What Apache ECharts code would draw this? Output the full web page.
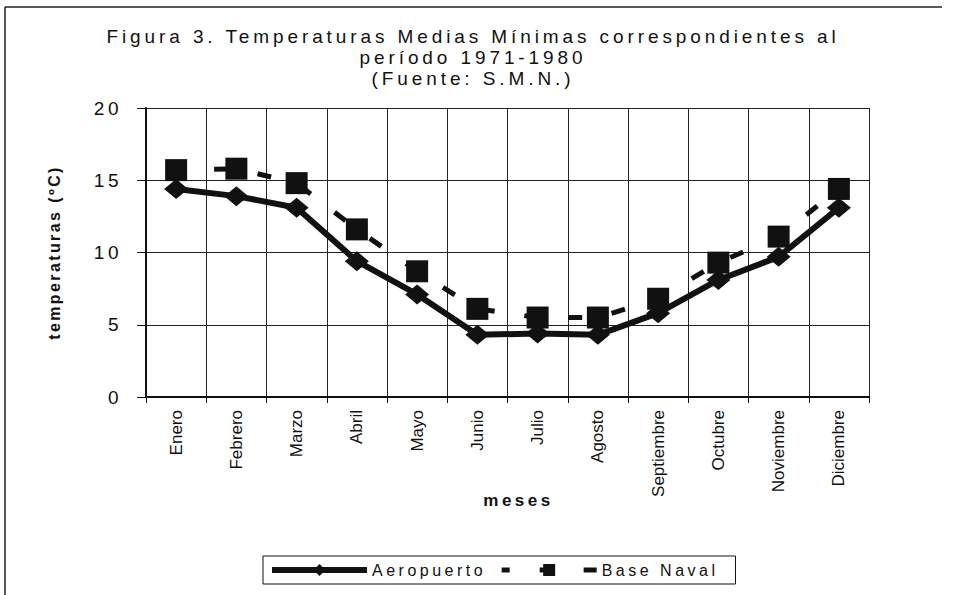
<!DOCTYPE html>
<html>
<head>
<meta charset="utf-8">
<script src="https://cdn.jsdelivr.net/npm/echarts@6/dist/echarts.min.js"></script>
<style>
  html, body { margin: 0; padding: 0; background: #fff; }
  #chart { width: 959px; height: 595px; }
  /* espaciado de letras del escaneo original */
  #chart text[style*="Liberation Sans"] { letter-spacing: 3.5px; }
  #chart text[style*="Arimo"] { letter-spacing: 3.9px; }
  #chart text[style*="Tinos"] { letter-spacing: 2.4px; }
</style>
</head>
<body>
<div id="chart"></div>
<script>
  // meses del eje X
  const meses = ['Enero', 'Febrero', 'Marzo', 'Abril', 'Mayo', 'Junio', 'Julio',
    'Agosto', 'Septiembre', 'Octubre', 'Noviembre', 'Diciembre'];
  // temperaturas medias mínimas (ºC)
  const aeropuerto = [14.4, 13.9, 13.1, 9.4, 7.1, 4.3, 4.4, 4.3, 5.8, 8.1, 9.7, 13.1];
  const baseNaval = [15.7, 15.8, 14.8, 11.6, 8.7, 6.1, 5.5, 5.5, 6.8, 9.3, 11.1, 14.4];
  const yTicks = [0, 5, 10, 15, 20];

  const spaced = 'Liberation Sans';
  const titleFont = 'Liberation Sans, Arimo';
  const nameFont = 'Liberation Sans, Tinos';
  const plain = 'Arial, Helvetica, sans-serif';

  const myChart = echarts.init(document.getElementById('chart'), null, { renderer: 'svg' });

  const option = {
    backgroundColor: '#fff',
    animation: false,
    title: {
      text: 'Figura 3. Temperaturas Medias Mínimas correspondientes al\nperíodo 1971-1980\n(Fuente: S.M.N.)',
      left: 468,
      top: 21,
      textAlign: 'center',
      textStyle: {
        fontFamily: titleFont,
        fontSize: 19,
        fontWeight: 'normal',
        color: '#111',
        lineHeight: 21,
      },
    },
    graphic: [
      { type: 'line', shape: { x1: 5, y1: 7, x2: 942, y2: 7 }, style: { stroke: '#222', lineWidth: 1.5 } },
      { type: 'line', shape: { x1: 5, y1: 7, x2: 5, y2: 595 }, style: { stroke: '#222', lineWidth: 1.5 } },
    ],
    legend: {
      left: 263,
      top: 556,
      padding: [6, 52, 6, 6],
      borderColor: '#111',
      borderWidth: 1,
      itemGap: 48,
      itemWidth: 95,
      itemHeight: 15,
      lineStyle: { width: 'inherit' },
      textStyle: { fontFamily: spaced, fontSize: 16, color: '#111' },
      data: ['Aeropuerto', 'Base Naval'],
    },
    grid: {
      left: 146,
      top: 108,
      right: 90,
      bottom: 198,
    },
    xAxis: {
      type: 'category',
      data: meses,
      boundaryGap: true,
      name: 'meses',
      nameLocation: 'middle',
      nameGap: 95,
      nameMoveOverlap: false,
      nameTextStyle: {
        fontFamily: spaced, fontSize: 17, fontWeight: 'bold', color: '#111',
        padding: [0, 0, 0, 22],
      },
      axisLine: { lineStyle: { color: '#111', width: 2 } },
      axisTick: { show: true, length: 6, lineStyle: { color: '#111' } },
      axisLabel: {
        interval: 0,
        rotate: 90,
        margin: 13,
        fontFamily: plain,
        fontSize: 17,
        color: '#111',
      },
      splitLine: { show: true, lineStyle: { color: '#222', width: 1 } },
    },
    yAxis: {
      type: 'value',
      min: yTicks[0],
      max: yTicks[yTicks.length - 1],
      interval: 5,
      name: 'temperaturas (ºC)',
      nameLocation: 'middle',
      nameGap: 84,
      nameTextStyle: { fontFamily: nameFont, fontSize: 16, fontWeight: 'bold', color: '#111' },
      axisLine: { show: true, lineStyle: { color: '#111', width: 2 } },
      axisTick: { show: true, length: 9, lineStyle: { color: '#111' } },
      axisLabel: { margin: 24, fontFamily: spaced, fontSize: 19, color: '#111' },
      splitLine: { show: true, lineStyle: { color: '#222', width: 1 } },
    },
    series: [
      {
        name: 'Aeropuerto',
        type: 'line',
        data: aeropuerto,
        symbol: 'diamond',
        symbolSize: [24, 20],
        itemStyle: { color: '#111' },
        lineStyle: { color: '#111', width: 6 },
        z: 3,
      },
      {
        name: 'Base Naval',
        type: 'line',
        data: baseNaval,
        symbol: 'rect',
        symbolSize: 22,
        itemStyle: { color: '#111' },
        lineStyle: { color: '#111', width: 5, type: [14, 30], dashOffset: 6 },
        z: 2,
      },
    ],
  };

  myChart.setOption(option);

  window.addEventListener('resize', function () {
    myChart.resize();
  });
</script>
</body>
</html>
